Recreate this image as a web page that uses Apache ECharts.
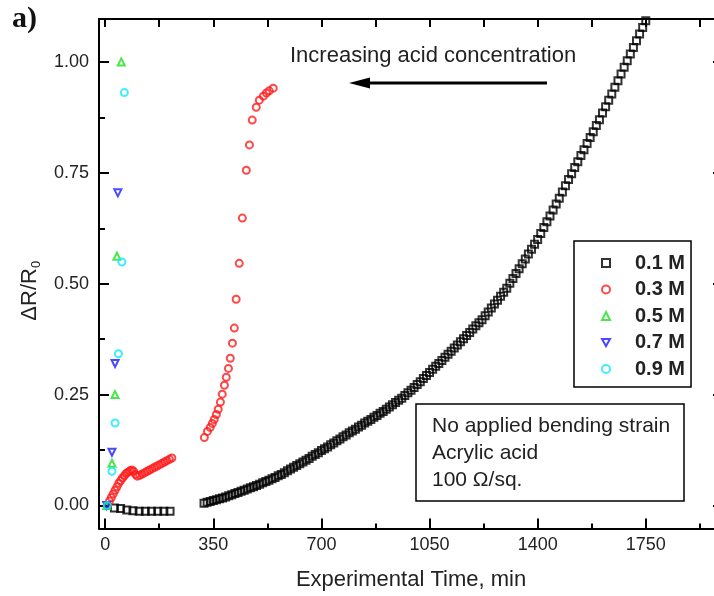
<!DOCTYPE html>
<html><head><meta charset="utf-8">
<script src="https://cdn.jsdelivr.net/npm/echarts@6/dist/echarts.min.js"></script>
<style>html,body{margin:0;padding:0;background:#fff}#c{width:714px;height:596px}</style>
</head><body><div id="c"></div>
<script>
const seriesNames = ['0.1 M', '0.3 M', '0.5 M', '0.7 M', '0.9 M'];
const xMajorTicks = [0, 350, 700, 1050, 1400, 1750];
const xMinorTicks = [175, 525, 875, 1225, 1575, 1925];
const xTopTicks = [0, 175, 350, 525, 700, 875, 1050, 1225, 1400, 1575, 1750, 1925];
const yMajorTicks = [0, 0.25, 0.5, 0.75, 1.0];
const yMinorTicks = [0.125, 0.375, 0.625, 0.875];

// 0.1 M : [time, dR/R0]
const data01 = [
 [30,-0.006],[50,-0.007],[70,-0.010],[90,-0.012],[110,-0.013],[130,-0.013],[150,-0.013],[170,-0.013],[190,-0.013],[210,-0.013],
 [320,0.005],[330,0.007],[340,0.009],[350,0.011],[360,0.013],[370,0.015],[380,0.017],[390,0.019],[400,0.022],[410,0.024],
 [420,0.027],[430,0.029],[440,0.032],[450,0.034],[460,0.037],[470,0.040],[480,0.042],[490,0.045],[500,0.048],[510,0.051],
 [520,0.054],[530,0.057],[540,0.060],[550,0.063],[560,0.067],[570,0.070],[580,0.074],[590,0.078],[600,0.082],[610,0.086],
 [620,0.090],[630,0.094],[640,0.098],[650,0.102],[660,0.106],[670,0.111],[680,0.115],[690,0.119],[700,0.124],[710,0.128],
 [720,0.132],[730,0.137],[740,0.141],[750,0.146],[760,0.150],[770,0.155],[780,0.159],[790,0.164],[800,0.168],[810,0.172],
 [820,0.177],[830,0.181],[840,0.186],[850,0.190],[860,0.194],[870,0.199],[880,0.203],[890,0.208],[900,0.212],[910,0.217],
 [920,0.222],[930,0.227],[940,0.232],[950,0.237],[960,0.242],[970,0.248],[980,0.254],[990,0.260],[1000,0.266],[1010,0.273],
 [1020,0.279],[1030,0.286],[1040,0.293],[1050,0.300],[1060,0.307],[1070,0.314],[1080,0.320],[1090,0.327],[1100,0.334],[1110,0.341],
 [1120,0.348],[1130,0.355],[1140,0.362],[1150,0.369],[1160,0.376],[1170,0.383],[1180,0.390],[1190,0.398],[1200,0.405],[1210,0.412],
 [1220,0.419],[1230,0.428],[1240,0.436],[1250,0.445],[1260,0.454],[1270,0.463],[1280,0.472],[1290,0.481],[1300,0.490],[1310,0.501],
 [1320,0.512],[1330,0.523],[1340,0.534],[1350,0.545],[1360,0.556],[1370,0.567],[1380,0.578],[1390,0.589],[1400,0.600],[1410,0.613],
 [1420,0.627],[1430,0.640],[1440,0.653],[1450,0.666],[1460,0.680],[1470,0.693],[1480,0.707],[1490,0.721],[1500,0.735],[1510,0.748],
 [1520,0.762],[1530,0.775],[1540,0.789],[1550,0.802],[1560,0.816],[1570,0.830],[1580,0.843],[1590,0.857],[1600,0.870],[1610,0.885],
 [1620,0.899],[1630,0.914],[1640,0.928],[1650,0.943],[1660,0.958],[1670,0.973],[1680,0.988],[1690,1.003],[1700,1.018],[1710,1.033],
 [1720,1.048],[1730,1.063],[1740,1.078],[1750,1.093]
];
// 0.3 M
const data03 = [
 [8,0.000],[14,0.010],[20,0.018],[26,0.026],[32,0.034],[38,0.042],[44,0.050],[50,0.056],[56,0.062],[62,0.067],
 [68,0.072],[74,0.075],[80,0.078],[86,0.080],[92,0.077],[98,0.070],[104,0.066],[112,0.068],[120,0.071],[128,0.074],
 [136,0.077],[144,0.080],[152,0.083],[160,0.086],[168,0.089],[176,0.092],[184,0.095],[192,0.098],[200,0.101],[208,0.104],[216,0.107],
 [321,0.153],[331,0.167],[340,0.176],[347,0.185],[353,0.194],[360,0.205],[366,0.217],[373,0.233],[379,0.251],[386,0.271],
 [392,0.289],[399,0.309],[405,0.332],[412,0.366],[418,0.400],[424,0.465],[434,0.546],[444,0.648],[457,0.756],[467,0.813],
 [476,0.869],[489,0.898],[499,0.914],[512,0.923],[522,0.930],[531,0.935],[544,0.941]
];
// 0.5 M
const data05 = [[5,0.000],[22,0.095],[32,0.250],[38,0.562],[52,1.000]];
// 0.7 M
const data07 = [[5,0.000],[22,0.120],[32,0.320],[41,0.705]];
// 0.9 M
const data09 = [[7,0.000],[22,0.077],[32,0.186],[43,0.342],[54,0.549],[62,0.931]];

const FF = '"Liberation Sans", Arial, sans-serif';
const TXT = '#222';
const chart = echarts.init(document.getElementById('c'));

function tickAxis(extra) {
  return Object.assign({
    type: 'value',
    axisLine: { show: false, onZero: false },
    axisTick: { show: false },
    axisLabel: { show: false },
    splitLine: { show: false }
  }, extra);
}

const xr = { min: -20, max: 2000 };
const yr = { min: -0.052, max: 1.097 };
const blackLine = { color: '#000', width: 2 };

function mk(name, data, symbol, color) {
  return {
    type: 'scatter', name: name, data: data, symbol: symbol, symbolSize: 7,
    xAxisIndex: 0, yAxisIndex: 0,
    itemStyle: { color: 'rgba(255,255,255,0)', borderColor: color, borderWidth: 2 },
    emphasis: { disabled: true }, animation: false
  };
}

chart.setOption({
  animation: false,
  grid: { left: 99, right: -9, top: 19, bottom: 67.5, outerBoundsMode: 'none', containLabel: false },
  title: [
    { text: 'a)', left: 12, top: 4, padding: 0,
      textStyle: { fontFamily: '"Liberation Serif", "Times New Roman", serif', fontWeight: 'bold', fontSize: 30, color: '#111' } },
    { text: 'Increasing acid concentration', left: 290, top: 45, padding: 0,
      textStyle: { fontFamily: FF, fontWeight: 'normal', fontSize: 22, color: TXT } },
    { text: 'No applied bending strain\nAcrylic acid\n100 Ω/sq.', left: 416, top: 404,
      padding: [9, 14, 7, 16], borderColor: '#000', borderWidth: 1.5,
      textStyle: { fontFamily: FF, fontWeight: 'normal', fontSize: 21, lineHeight: 27, color: TXT } }
  ],
  legend: {
    orient: 'vertical', left: 574, top: 241, padding: [12, 6, 8, 27],
    itemWidth: 8, itemHeight: 8, itemGap: 6.5,
    borderColor: '#000', borderWidth: 1.5, selectedMode: false,
    textStyle: { fontFamily: FF, fontSize: 20, fontWeight: 'bold', color: TXT, lineHeight: 20, padding: [0, 0, 0, 20] },
    data: seriesNames
  },
  xAxis: [
    Object.assign(tickAxis({
      position: 'bottom',
      axisLine: { show: true, onZero: false, lineStyle: blackLine },
      axisTick: { show: true, inside: true, length: 10, customValues: xMajorTicks, lineStyle: blackLine },
      axisLabel: { show: true, customValues: xMajorTicks, margin: 8, color: TXT, fontSize: 18, fontFamily: FF,
        formatter: v => String(v) },
      name: 'Experimental Time, min', nameLocation: 'middle', nameGap: 40,
      nameTextStyle: { fontFamily: FF, fontSize: 22, color: TXT }
    }), xr),
    Object.assign(tickAxis({
      position: 'bottom',
      axisTick: { show: true, inside: true, length: 5, customValues: xMinorTicks, lineStyle: blackLine }
    }), xr),
    Object.assign(tickAxis({
      position: 'top',
      axisLine: { show: true, onZero: false, lineStyle: blackLine },
      axisTick: { show: true, inside: true, length: 8, customValues: xTopTicks, lineStyle: blackLine }
    }), xr)
  ],
  yAxis: [
    Object.assign(tickAxis({
      position: 'left',
      axisLine: { show: true, onZero: false, lineStyle: blackLine },
      axisTick: { show: true, inside: true, length: 10, customValues: yMajorTicks, lineStyle: blackLine },
      axisLabel: { show: true, customValues: yMajorTicks, margin: 10, color: TXT, fontSize: 18, fontFamily: FF,
        formatter: v => v.toFixed(2) },
      name: '{a|ΔR/R}{b|0}', nameLocation: 'middle', nameGap: 56,
      nameTextStyle: {
        padding: [0, 34, 0, 0],
        rich: {
          a: { fontFamily: FF, fontSize: 22, color: TXT, lineHeight: 26 },
          b: { fontFamily: FF, fontSize: 13, color: TXT, lineHeight: 13, verticalAlign: 'bottom' }
        }
      }
    }), yr),
    Object.assign(tickAxis({
      position: 'left',
      axisTick: { show: true, inside: true, length: 6, customValues: yMinorTicks, lineStyle: blackLine }
    }), yr),
    Object.assign(tickAxis({
      position: 'right',
      axisLine: { show: true, onZero: false, lineStyle: blackLine },
      axisTick: { show: true, inside: true, length: 10, customValues: yMajorTicks, lineStyle: blackLine }
    }), yr)
  ],
  series: [
    mk('0.1 M', data01, 'rect', '#000'),
    mk('0.3 M', data03, 'circle', '#ff1a1a'),
    mk('0.5 M', data05, 'triangle', '#1ee01e'),
    mk('0.7 M', data07, 'path://M0,0L10,0L5,9Z', '#1a1aff'),
    mk('0.9 M', data09, 'circle', '#10e8ff')
  ],
  graphic: [
    { type: 'line', shape: { x1: 547, y1: 83, x2: 364, y2: 83 }, style: { stroke: '#000', lineWidth: 3 } },
    { type: 'polygon', shape: { points: [[349, 83], [370, 77.5], [370, 88.5]] }, style: { fill: '#000' } }
  ]
});
</script></body></html>
